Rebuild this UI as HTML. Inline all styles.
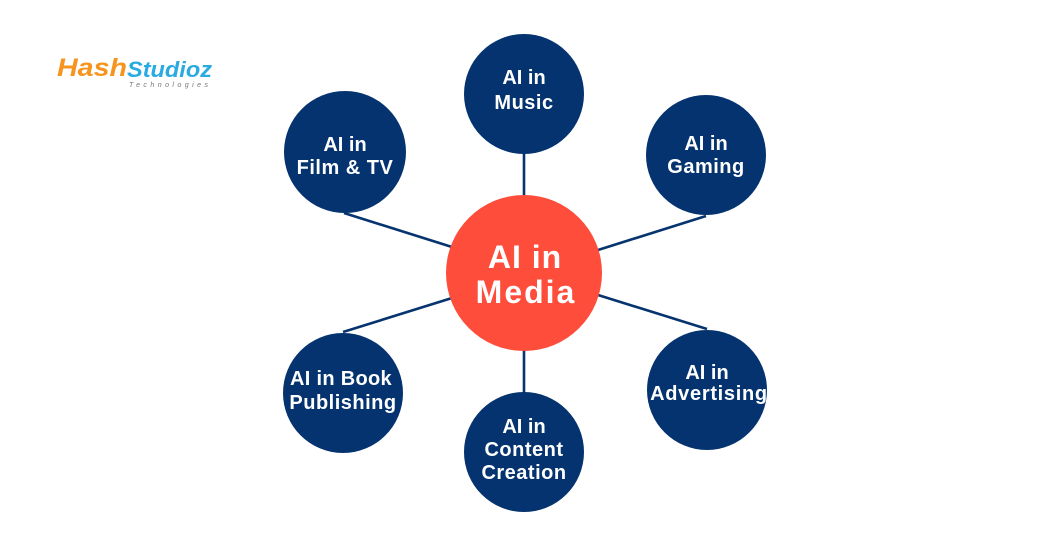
<!DOCTYPE html>
<html>
<head>
<meta charset="utf-8">
<style>
  html,body{margin:0;padding:0;background:#ffffff;}
  body{width:1060px;height:557px;overflow:hidden;}
  svg{display:block;}
  .t{font-family:"Liberation Sans",sans-serif;font-weight:bold;fill:#ffffff;text-anchor:middle;}
  .s{font-size:20px;}
</style>
</head>
<body>
<svg width="1060" height="557" viewBox="0 0 1060 557" xmlns="http://www.w3.org/2000/svg">
  <rect width="1060" height="557" fill="#ffffff"/>

  <!-- Logo -->
  <text x="57" y="76" font-family="Liberation Sans, sans-serif" font-weight="bold" font-style="italic" font-size="25" fill="#f7941d" textLength="70" lengthAdjust="spacingAndGlyphs">Hash</text>
  <text x="127" y="77" font-family="Liberation Sans, sans-serif" font-weight="bold" font-style="italic" font-size="22" fill="#29abe2" textLength="85" lengthAdjust="spacingAndGlyphs">Studioz</text>
  <text x="129" y="87" font-family="Liberation Sans, sans-serif" font-size="7" fill="#777777" textLength="79" lengthAdjust="spacing" font-style="italic">Technologies</text>

  <!-- Connectors -->
  <g stroke="#06346f" stroke-width="2.6" fill="none">
    <line x1="524" y1="150" x2="524" y2="200"/>
    <line x1="344" y1="213" x2="452" y2="247"/>
    <line x1="706" y1="216" x2="598" y2="250"/>
    <line x1="343" y1="332" x2="452" y2="298"/>
    <line x1="707" y1="329" x2="598" y2="295"/>
    <line x1="524" y1="345" x2="524" y2="396"/>
  </g>

  <!-- Outer circles -->
  <g fill="#04336f">
    <circle cx="524" cy="94" r="60"/>
    <circle cx="345" cy="152" r="61"/>
    <circle cx="706" cy="155" r="60"/>
    <circle cx="343" cy="393" r="60"/>
    <circle cx="524" cy="452" r="60"/>
    <circle cx="707" cy="390" r="60"/>
  </g>

  <!-- Center circle -->
  <circle cx="524" cy="273" r="78" fill="#fe4d3b"/>

  <!-- Labels -->
  <text class="t" x="525" y="268" font-size="32" letter-spacing="1">AI in</text>
  <text class="t" x="526" y="303" font-size="32" letter-spacing="2">Media</text>

  <text class="t s" x="524" y="84">AI in</text>
  <text class="t s" x="524" y="109" letter-spacing="0.5">Music</text>

  <text class="t s" x="345" y="151">AI in</text>
  <text class="t s" x="345" y="174" letter-spacing="0.5">Film &amp; TV</text>

  <text class="t s" x="706" y="150">AI in</text>
  <text class="t s" x="706" y="173" letter-spacing="0.5">Gaming</text>

  <text class="t s" x="341" y="385" letter-spacing="0.3">AI in Book</text>
  <text class="t s" x="343" y="409" letter-spacing="0.5">Publishing</text>

  <text class="t s" x="524" y="433">AI in</text>
  <text class="t s" x="524" y="456" letter-spacing="0.5">Content</text>
  <text class="t s" x="524" y="479" letter-spacing="0.5">Creation</text>

  <text class="t s" x="707" y="379">AI in</text>
  <text class="t s" x="709" y="400" letter-spacing="0.7">Advertising</text>
</svg>
</body>
</html>
